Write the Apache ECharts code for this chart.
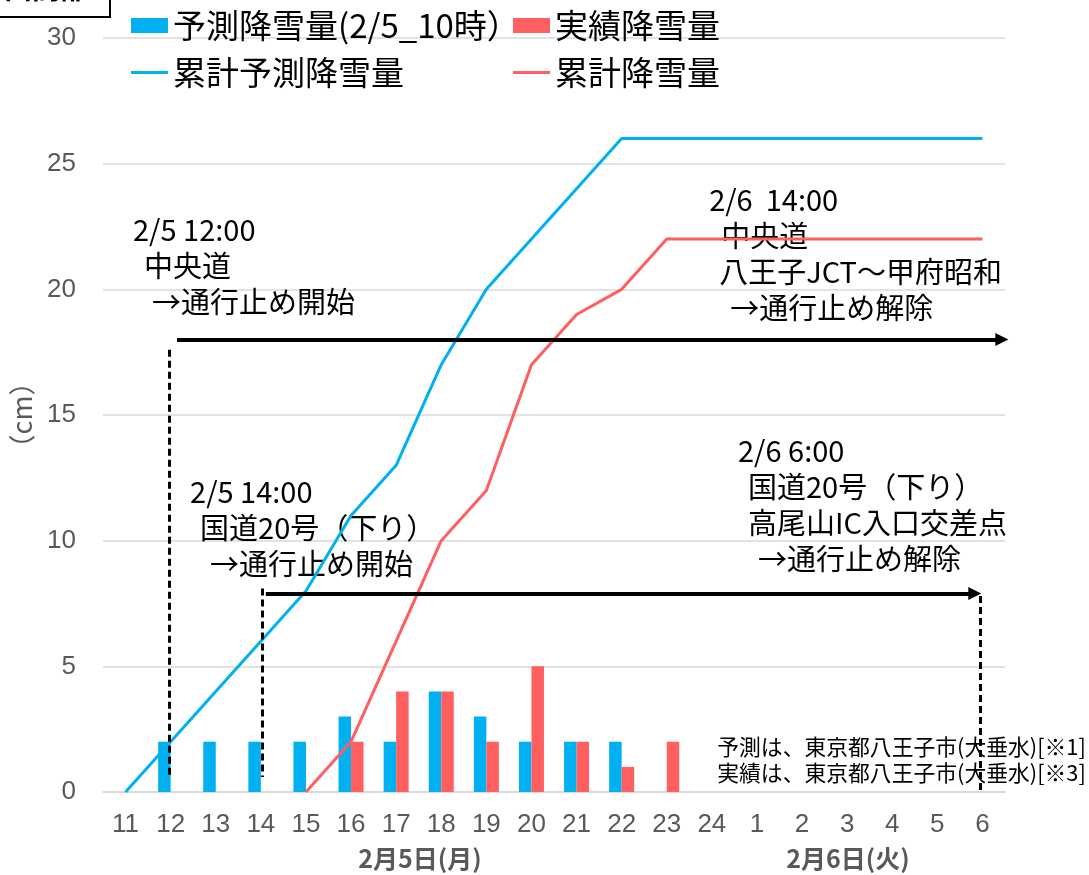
<!DOCTYPE html>
<html><head><meta charset="utf-8">
<script src="https://cdn.jsdelivr.net/npm/echarts@6/dist/echarts.min.js"></script>
<style>html,body{margin:0;padding:0;background:#fff}#main{width:1089px;height:875px}</style>
</head><body><div id="main"></div>
<script>
// ---- data ----
const hours = ['11','12','13','14','15','16','17','18','19','20','21','22','23','24','1','2','3','4','5','6'];
const forecastSnow = [null,2,2,2,2,3,2,4,3,2,2,2,null,null,null,null,null,null,null,null];
const actualSnow   = [null,null,null,null,null,2,4,4,2,5,2,1,2,null,null,null,null,null,null,null];
const forecastCum  = [0,2,4,6,8,11,13,17,20,22,24,26,26,26,26,26,26,26,26,26];
const actualCum    = [null,null,null,null,0,2,6,10,12,17,19,20,22,22,22,22,22,22,22,22];
const yMin = 0, yMax = 30, yInterval = 5;
const seriesNames = ['予測降雪量(2/5_10時）','実績降雪量','累計予測降雪量','累計降雪量'];
const dayLabels = ['2月5日(月)','2月6日(火)'];
const notes = ['予測は、東京都八王子市(大垂水)[※1]','実績は、東京都八王子市(大垂水)[※3]'];

// ---- layout (annotation anchors in axis coords; x axis 2 = hour index 0..20) ----
const annotations = [
  {x: 0.665, y: 22.35, lines: [['2/5 12:00',0],['中央道',11],['→通行止め開始',19]]},
  {x: 13.44, y: 23.55, lines: [['2/6  14:00',0],['中央道',12],['八王子JCT～甲府昭和',10],['→通行止め解除',21]]},
  {x: 1.93,  y: 11.95, lines: [['2/5 14:00',0],['国道20号（下り）',10],['→通行止め開始',20]]},
  {x: 14.08, y: 13.55, lines: [['2/6 6:00',0],['国道20号（下り）',10],['高尾山IC入口交差点',10],['→通行止め解除',20]]}
];
const BLUE = '#00B0F0', RED = '#FF5F5F';
const JP = '"Noto Sans CJK JP", sans-serif';
const NUM = '"Liberation Sans", Arial, sans-serif';
const LINE_ICON = 'path://M0,0L37,0L37,3L0,3Z';

const chart = echarts.init(document.getElementById('main'));
const legendText = {fontFamily: JP, fontSize: 33, color: '#000', lineHeight: 33};
const option = {
  animation: false,
  backgroundColor: '#fff',
  grid: {left: 103, right: 84, top: 38, bottom: 83, containLabel: false},
  legend: [
    {data: [{name: seriesNames[0], icon: 'rect'}, {name: seriesNames[2], icon: LINE_ICON}], orient: 'vertical', left: 131, top: 9, padding: 0,
     itemWidth: 37, itemHeight: 15, itemGap: 14, textStyle: legendText},
    {data: [{name: seriesNames[1], icon: 'rect'}, {name: seriesNames[3], icon: LINE_ICON}], orient: 'vertical', left: 513, top: 9, padding: 0,
     itemWidth: 37, itemHeight: 15, itemGap: 14, textStyle: legendText}
  ],
  xAxis: [
    {type: 'category', data: hours, boundaryGap: true,
     axisLine: {lineStyle: {color: '#d9d9d9', width: 2}}, axisTick: {show: false},
     axisLabel: {color: '#595959', fontSize: 26, fontFamily: NUM, margin: 20, interval: 0}},
    {type: 'value', min: 0, max: 20, show: false}
  ],
  yAxis: {
    type: 'value', min: yMin, max: yMax, interval: yInterval,
    name: '（cm）', nameLocation: 'middle', nameGap: 68,
    nameTextStyle: {color: '#595959', fontSize: 27, fontFamily: JP},
    axisLine: {show: false}, axisTick: {show: false},
    axisLabel: {color: '#595959', fontSize: 26, fontFamily: NUM, margin: 27},
    splitLine: {lineStyle: {color: '#d9d9d9', width: 1.5}}
  },
  series: [
    {name: seriesNames[0], type: 'bar', data: forecastSnow, barWidth: 12.5, barGap: '0%',
     itemStyle: {color: BLUE}},
    {name: seriesNames[1], type: 'bar', data: actualSnow, barWidth: 12.5, barGap: '0%',
     itemStyle: {color: RED}},
    {name: seriesNames[2], type: 'line', data: forecastCum, symbol: 'none',
     lineStyle: {color: BLUE, width: 3}, itemStyle: {color: BLUE}},
    {name: seriesNames[3], type: 'line', data: actualCum, symbol: 'none',
     lineStyle: {color: RED, width: 3}, itemStyle: {color: RED}},
    {name: 'annot', type: 'line', xAxisIndex: 1, yAxisIndex: 0, data: [], z: 5,
     markLine: {
       silent: true, animation: false, symbol: ['none', 'triangle'], symbolSize: [13, 13],
       label: {show: false},
       lineStyle: {color: '#000', width: 4, type: 'solid'},
       data: [
         [{coord: [1.64, 18.0]}, {coord: [19.93, 18.0]}],
         [{coord: [3.61, 7.9]}, {coord: [19.33, 7.9]}],
         [{coord: [1.48, 17.6], symbol: 'none', lineStyle: {type: [7, 4], width: 3}}, {coord: [1.48, 0.6], symbol: 'none'}],
         [{coord: [3.52, 8.1], symbol: 'none', lineStyle: {type: [7, 4], width: 3}}, {coord: [3.52, 0.6], symbol: 'none'}],
         [{coord: [19.45, 7.8], symbol: 'none', lineStyle: {type: [7, 4], width: 3}}, {coord: [19.45, 0], symbol: 'none'}]
       ]
     }}
  ]
};
chart.setOption(option);

function px(x, y) { return chart.convertToPixel({xAxisIndex: 1, yAxisIndex: 0}, [x, y]); }
const els = [];
annotations.forEach(a => {
  const p = px(a.x, a.y);
  a.lines.forEach((ln, i) => {
    els.push({type: 'text', x: p[0] + ln[1], y: p[1] + i * 36, z: 1,
      style: {text: ln[0], font: '29px ' + JP, fill: '#000', align: 'left', verticalAlign: 'middle'}});
  });
});
const d1 = px(7.03, -2.63), d2 = px(16.52, -2.63);
[[d1, dayLabels[0]], [d2, dayLabels[1]]].forEach(([p, t]) => {
  els.push({type: 'text', x: p[0], y: p[1], style: {text: t, font: 'bold 25px ' + JP, fill: '#595959', align: 'center', verticalAlign: 'middle'}});
});
notes.forEach((t, i) => {
  const p = px(13.62, 1.79 - i * 1.04);
  els.push({type: 'text', x: p[0], y: p[1], z: 1, style: {text: t, font: '21.8px ' + JP, fill: '#000', align: 'left', verticalAlign: 'middle'}});
});
els.push({type: 'rect', shape: {x: -2, y: -30, width: 112, height: 47}, style: {fill: '#fff', stroke: '#000', lineWidth: 2}, z: 10});
els.push({type: 'text', x: 4, y: -12, z: 11, style: {text: '山間部', font: 'bold 28px ' + JP, fill: '#000', align: 'left', verticalAlign: 'middle'}});
chart.setOption({graphic: {elements: els}});
</script>
</body></html>
